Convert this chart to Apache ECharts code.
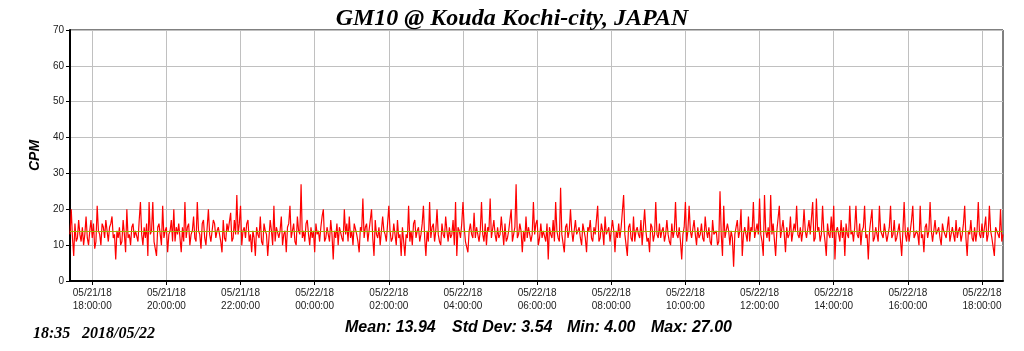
<!DOCTYPE html>
<html>
<head>
<meta charset="utf-8">
<title>GM10 @ Kouda Kochi-city</title>
<script src="https://cdn.jsdelivr.net/npm/echarts@6/dist/echarts.min.js"></script>
<style>
html, body { margin: 0; padding: 0; background: #fff; }
#main { width: 1024px; height: 351px; }
</style>
</head>
<body>
<div id="main"></div>
<script>
// first sample 05/21/18 17:24, one sample every 2 minutes
var startTime = new Date(2018, 4, 21, 17, 24, 0).getTime();
var stepMin = 2;
var yTicks = [0, 10, 20, 30, 40, 50, 60, 70];
var meanValue = 13.94;
var statsLabels = ["Mean: 13.94", "Std Dev: 3.54", "Min: 4.00", "Max: 27.00"];
var stampLabels = ["18:35", "2018/05/22"];

// CPM readings, one row per hour (30 samples)
var cpm = [
    13,20,12,7,16,11,12,17,13,11,15,10,13,18,12,10,14,17,12,16,9,11,21,14,13,10,16,15,12,17,
    14,11,15,16,18,12,13,6,14,12,15,10,11,17,13,8,20,12,13,10,15,16,12,14,14,11,17,22,13,10,
    15,12,16,7,22,13,14,22,11,11,7,15,16,13,10,21,12,14,15,8,13,14,17,11,20,11,15,13,16,12,
    8,15,11,22,12,15,16,10,13,14,18,12,11,22,14,13,9,16,17,12,10,15,20,13,11,14,17,16,12,14,
    15,13,11,8,17,12,11,16,14,14,19,11,12,17,13,24,13,16,21,10,14,15,12,16,17,11,13,8,14,12,
    7,15,13,12,18,11,10,16,14,13,7,12,17,14,10,21,11,15,15,12,14,18,10,13,14,8,15,16,21,12,
    12,16,11,10,18,14,13,27,12,14,11,16,17,13,10,15,12,14,8,16,13,14,11,15,18,20,11,12,15,13,
    11,17,13,6,14,12,16,10,15,15,12,11,20,13,16,11,18,12,14,10,16,16,13,11,8,15,14,23,12,15,
    16,11,14,14,20,12,7,17,13,12,15,10,10,18,14,13,11,16,21,14,11,12,16,13,10,17,12,13,7,15,
    15,7,13,12,21,11,14,10,16,17,12,14,15,11,13,16,21,12,7,14,11,22,12,15,16,11,14,20,13,11,
    10,16,13,12,18,14,11,15,12,13,17,10,22,7,15,14,12,16,22,15,11,11,8,14,16,13,12,19,12,15,
    15,11,14,22,13,11,16,10,15,14,23,12,12,17,13,11,15,12,13,18,14,10,16,11,12,14,17,20,11,13,
    15,27,12,13,16,14,8,14,11,18,12,15,15,11,13,22,13,16,17,10,12,16,12,14,14,11,16,6,15,13,
    12,17,11,22,14,12,11,26,13,13,8,15,16,12,14,20,14,11,11,17,13,13,15,12,10,16,14,12,8,15,
    14,17,12,11,15,13,13,21,11,12,16,14,10,18,13,13,15,11,11,17,14,8,14,12,16,12,15,15,24,13,
    13,7,15,16,12,11,18,11,14,15,13,12,17,10,15,20,14,11,12,8,16,15,11,13,22,13,12,16,12,14,
    15,11,13,17,13,11,10,16,12,14,22,13,12,15,11,6,13,15,22,11,14,21,14,12,12,17,13,10,15,12,
    13,16,12,11,18,14,12,15,11,10,17,13,13,14,10,11,25,13,7,21,12,12,16,14,10,14,12,4,13,15,
    17,12,14,20,7,13,15,13,11,18,11,15,14,22,12,12,16,13,23,13,11,7,24,14,12,15,11,24,13,16,
    16,7,14,14,21,12,12,17,13,8,15,12,13,18,11,11,16,14,21,13,12,15,11,14,20,14,12,12,17,13,
    13,22,11,12,23,14,15,11,13,21,14,11,7,16,13,12,18,12,21,6,14,15,13,11,17,12,15,7,16,13,
    12,21,13,14,11,15,21,13,12,16,10,14,15,21,12,13,6,14,17,20,11,12,15,13,11,21,14,14,12,16,
    16,11,13,15,21,12,13,17,11,12,14,16,16,7,14,22,13,11,15,11,14,17,21,12,12,14,13,10,21,12,
    13,8,15,16,12,14,22,14,11,11,17,13,13,15,12,10,16,14,14,12,15,18,11,13,15,13,11,17,12,14,
    15,11,13,16,21,12,7,14,13,17,12,11,15,11,14,22,13,12,16,12,15,18,11,13,21,14,12,12,7,15,
    15,13,12,20,11,13
];

function pad(n) { return (n < 10 ? "0" : "") + n; }

var times = [];
for (var i = 0; i < cpm.length; i++) {
    times.push(startTime + i * stepMin * 60000);
}
var categories = times.map(function(t) { return String(t); });

function isEvenHour(idx) {
    var d = new Date(times[idx]);
    return d.getMinutes() === 0 && d.getHours() % 2 === 0;
}

var serifBold = "italic bold 16px 'Liberation Serif'";
var sansBold = "italic bold 16px 'Liberation Sans'";
var statsX = [345, 452, 567, 651];
var stampX = [33, 82];

var graphics = [];
statsLabels.forEach(function(t, k) {
    graphics.push({ type: "text", left: statsX[k], top: 320, style: { text: t, font: sansBold, fill: "#000" } });
});
stampLabels.forEach(function(t, k) {
    graphics.push({ type: "text", left: stampX[k], top: 326, style: { text: t, font: serifBold, fill: "#000" } });
});

var chart = echarts.init(document.getElementById("main"), null, { renderer: "canvas" });
chart.setOption({
    animation: false,
    backgroundColor: "#fff",
    title: {
        text: "GM10 @ Kouda Kochi-city, JAPAN",
        left: "center",
        top: 2,
        textStyle: {
            fontFamily: "Liberation Serif",
            fontStyle: "italic",
            fontWeight: "bold",
            fontSize: 24,
            color: "#000"
        }
    },
    grid: {
        left: 70, right: 21, top: 30, bottom: 70,
        show: true,
        borderColor: "#000",
        borderWidth: 1
    },
    xAxis: {
        type: "category",
        data: categories,
        boundaryGap: false,
        axisLine: { lineStyle: { color: "#000", width: 2 } },
        axisTick: {
            interval: function(idx) { return isEvenHour(idx); },
            length: 4,
            lineStyle: { color: "#000" }
        },
        splitLine: {
            show: true,
            interval: function(idx) { return isEvenHour(idx); },
            lineStyle: { color: "#c0c0c0", width: 1 }
        },
        axisLabel: {
            interval: function(idx) { return isEvenHour(idx); },
            margin: 6,
            fontFamily: "Liberation Sans",
            fontSize: 10,
            lineHeight: 13,
            color: "#222",
            formatter: function(v) {
                var d = new Date(Number(v));
                return pad(d.getMonth() + 1) + "/" + pad(d.getDate()) + "/" + pad(d.getFullYear() % 100) +
                    "\n" + pad(d.getHours()) + ":" + pad(d.getMinutes()) + ":" + pad(d.getSeconds());
            }
        }
    },
    yAxis: {
        type: "value",
        min: yTicks[0],
        max: yTicks[yTicks.length - 1],
        interval: yTicks[1] - yTicks[0],
        name: "CPM",
        nameLocation: "middle",
        nameGap: 24,
        nameTextStyle: {
            fontFamily: "Liberation Sans",
            fontStyle: "italic",
            fontWeight: "bold",
            fontSize: 14,
            color: "#000"
        },
        axisLine: { show: true, lineStyle: { color: "#000", width: 2 } },
        axisTick: { show: true, length: 4, lineStyle: { color: "#000" } },
        splitLine: { lineStyle: { color: "#c0c0c0", width: 1 } },
        axisLabel: {
            margin: 6,
            fontFamily: "Liberation Sans",
            fontSize: 10,
            color: "#222"
        }
    },
    series: [{
        type: "line",
        data: cpm,
        showSymbol: false,
        symbol: "none",
        lineStyle: { color: "#ff0000", width: 1.2 },
        markLine: {
            silent: true,
            symbol: "none",
            label: { show: false },
            lineStyle: { color: "#a0b000", width: 1, type: "solid" },
            data: [{ yAxis: meanValue }]
        }
    }],
    graphic: graphics
});
window.onresize = function() { chart.resize(); };
</script>
</body>
</html>
